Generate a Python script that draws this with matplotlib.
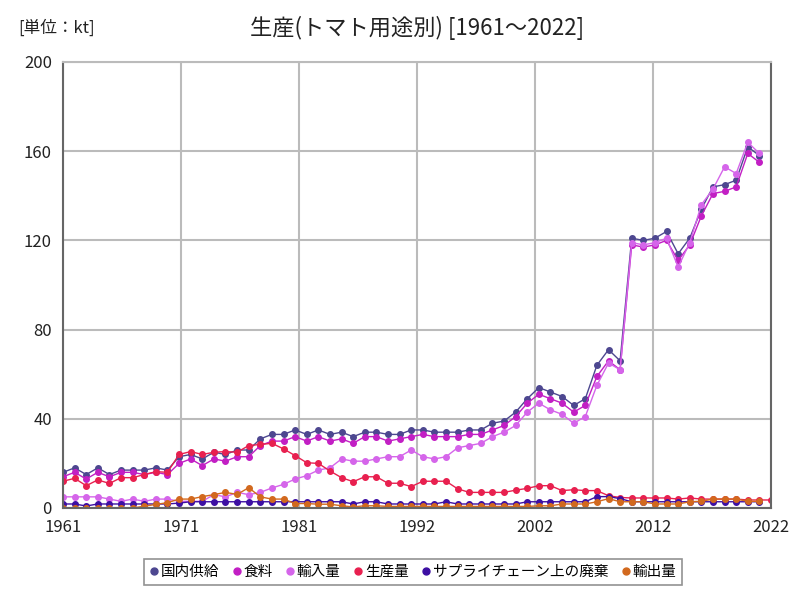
import numpy as np
import matplotlib
matplotlib.use("Agg")
import matplotlib.pyplot as plt

plt.rcParams['font.family'] = ['Noto Sans CJK JP', 'DejaVu Sans']

years = list(range(1961, 2023))
nan = np.nan

domestic_supply = [16, 18, 15, 18, 15, 17, 17, 17, 18, 17,
                   23, 24, 22, 25, 24, 26, 26, 31, 33, 33,
                   35, 33, 35, 33, 34, 32, 34, 34, 33, 33,
                   35, 35, 34, 34, 34, 35, 35, 38, 39, 43,
                   49, 54, 52, 50, 46, 49, 64, 71, 66, 121,
                   120, 121, 124, 114, 121, 134, 144, 145, 147, 162, 158, nan]
food = [14, 16, 13, 16, 14, 16, 16, 15, 16, 15,
        20, 22, 19, 22, 21, 23, 23, 28, 30, 30,
        32, 30, 32, 30, 31, 29, 32, 32, 30, 31,
        32, 33, 32, 32, 32, 33, 33, 35, 37, 41,
        47, 51, 49, 47, 43, 46, 59, 66, 62, 118,
        117, 118, 120, 111, 118, 131, 141, 142, 144, 159, 155, nan]
imports = [5, 5, 5, 5, 4, 3, 4, 3, 4, 4,
           3, 3, 3, 6, 5, 7, 6, 7, 9, 10.6,
           13, 14.5, 17, 18, 22, 21, 21, 22, 23, 23,
           26, 23, 22, 23, 27, 28, 29, 32, 34, 37,
           43, 47, 44, 42, 38, 41, 55, 65, 62, 119,
           118, 119, 121, 108, 119, 136, 143, 153, 150, 164, 159, nan]
production = [12, 13.3, 10, 12.6, 11, 13.6, 13.6, 15, 16.3, 16,
              24, 25.3, 24, 25, 25.3, 25, 28, 28.5, 29, 26.5,
              23.5, 20.3, 20, 16.6, 13.6, 11.8, 14, 14, 11.1, 11.1,
              9.6, 12, 12, 12, 8.6, 7, 7, 7, 7, 8,
              8.8, 10, 10, 7.8, 8.2, 7.8, 7.8, 5.5, 4.7, 4.5,
              4.5, 4.5, 4.5, 4, 4.5, 4, 4, 4, 4, 3.6, 3.6, 3.6]
waste = [1.8, 1.8, 0.9, 1.8, 1.8, 1.8, 1.8, 1.8, 1.8, 1.8,
         2.2, 2.8, 2.8, 2.8, 2.8, 2.8, 2.8, 2.8, 2.8, 2.8,
         2.8, 2.8, 2.8, 2.8, 2.8, 1.8, 2.8, 2.8, 1.8, 1.8,
         1.8, 1.8, 1.8, 2.8, 1.8, 1.8, 1.8, 1.8, 1.8, 1.8,
         2.8, 2.8, 2.8, 2.8, 2.8, 2.8, 5.1, 5.1, 4.2, 2.8,
         2.8, 2.8, 2.8, 2.8, 2.8, 2.8, 2.8, 2.8, 2.8, 2.8, 2.8, nan]
exports = [0, 0, 0, 0, 0, 0, 0, 0.8, 1.6, 2.4,
           4, 4, 5.1, 6, 7, 6.1, 9.1, 5, 4, 4,
           2, 2, 1.7, 1.7, 1, 0.5, 1, 1, 0.7, 0.7,
           0.7, 0.7, 0.7, 0.7, 0.7, 0.7, 0.7, 0.7, 0.7, 0.7,
           0.7, 1, 1, 1.8, 1.8, 1.8, 2.8, 4.2, 2.8, 2.8,
           2.8, 1.8, 1.8, 1.8, 2.8, 3, 4, 4, 4, 3, 3, nan]

series = [
    ("国内供給", domestic_supply, "#4d4790"),
    ("食料", food, "#c21fc4"),
    ("輸入量", imports, "#d565ea"),
    ("生産量", production, "#e8204f"),
    ("サプライチェーン上の廃棄", waste, "#3d0fa3"),
    ("輸出量", exports, "#d2691e"),
]

fig = plt.figure(figsize=(8, 6), dpi=100)
ax = fig.add_axes([63/800, 1-508/600, (771-63)/800, (508-62)/600])

for name, vals, col in series:
    ax.plot(years, vals, color=col, lw=1.0, marker='o', markersize=4,
            label=name, clip_on=True)

ax.set_xlim(1961, 2022)
ax.set_ylim(0, 200)
ax.set_yticks(range(0, 201, 40))
xt = np.linspace(1961, 2022, 7)
ax.set_xticks(xt)
ax.set_xticklabels([str(int(np.floor(v + 0.5))) for v in xt])
ax.grid(True, color="#bbbbbb", lw=1.5)
ax.set_axisbelow(True)
ax.tick_params(length=0, labelsize=12, pad=8, colors="#222222")
for s in ['left', 'bottom', 'right']:
    ax.spines[s].set_color("#666666")
    ax.spines[s].set_linewidth(1.5)
ax.spines['top'].set_color("#bbbbbb")
ax.spines['top'].set_linewidth(1.5)

fig.text(417/800, 1-28/600, "生産(トマト用途別) [1961～2022]", ha='center', va='center',
         fontsize=16, color="#222222")
fig.text(18/800, 1-28/600, "[単位：kt]", ha='left', va='center', fontsize=12, color="#222222")

handles = [plt.Line2D([], [], color=c, marker='o', linestyle='None', markersize=5) for _, _, c in series]
leg = fig.legend(handles, [n for n, _, _ in series], loc='center', bbox_to_anchor=(413/800, 1-572/600),
                 ncol=6, frameon=True, fancybox=False, edgecolor="#777777", fontsize=10.5,
                 handlelength=0.6, handletextpad=0.15, columnspacing=0.9, borderpad=0.4)
leg.get_frame().set_linewidth(1.2)

fig.savefig("out.png", dpi=100)
